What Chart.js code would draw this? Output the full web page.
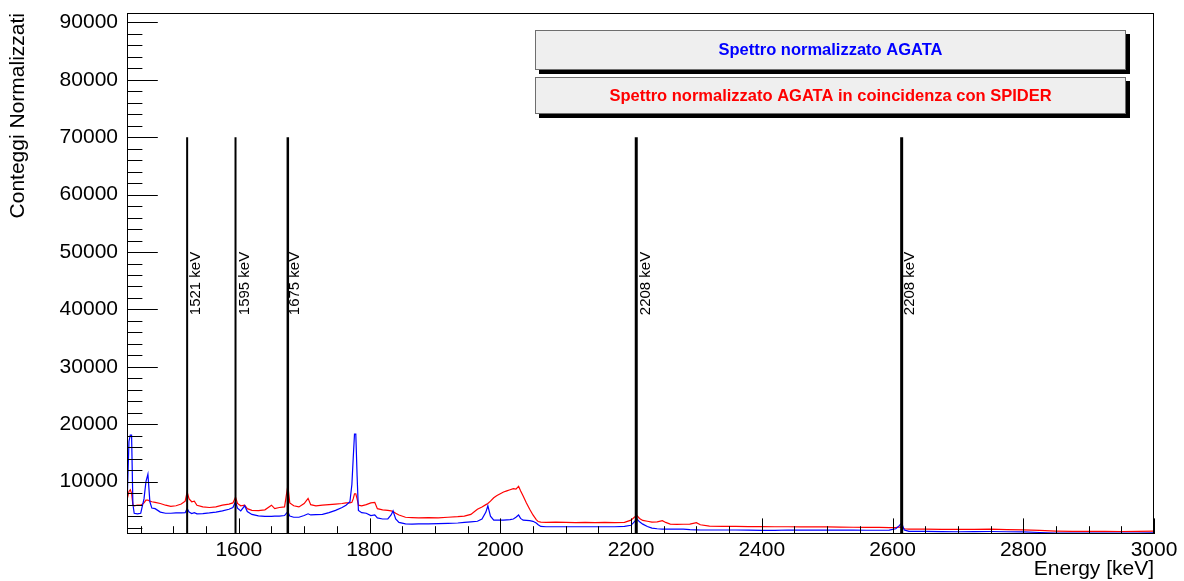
<!DOCTYPE html>
<html>
<head>
<meta charset="utf-8">
<script src="https://cdn.jsdelivr.net/npm/chart.js@4/dist/chart.umd.min.js"></script>
<style>
html,body{margin:0;padding:0;background:#fff;}
#wrap{width:1184px;height:581px;position:relative;}
</style>
</head>
<body>
<div id="wrap"><canvas id="c" width="1184" height="581"></canvas></div>
<script>
// ---------------- data ----------------
const energyKeV = [1429,1432,1434,1436,1438,1440,1445,1450,1455,1458,1461,1464,1467,1472,1480,1488,1496,1504,1512,1518,
  1521,1524,1528,1532,1536,1545,1555,1565,1575,1585,1591,1595,1598,1603,1609,1613,1620,1630,1640,1650,
  1655,1662,1670,1675,1678,1684,1692,1700,1706,1710,1718,1728,1738,1748,1758,1764,1770,1773,1775,1777,
  1779,1781,1783,1788,1795,1802,1808,1812,1820,1828,1833,1836,1840,1845,1855,1865,1875,1890,1905,1920,
  1935,1945,1955,1965,1972,1978,1981,1985,1990,1995,2000,2005,2010,2015,2020,2024,2028,2031,2035,2040,
  2045,2050,2055,2058,2062,2070,2085,2100,2115,2130,2145,2160,2175,2190,2200,2205,2209,2213,2218,2225,
  2232,2240,2248,2253,2260,2270,2280,2290,2300,2306,2320,2340,2360,2380,2400,2420,2440,2460,2480,2500,
  2520,2540,2560,2580,2595,2605,2610,2614,2618,2625,2650,2675,2700,2725,2750,2775,2800,2825,2850,2875,
  2900,2925,2950,2975,3000];

// Spettro normalizzato AGATA (blue)
const agata = [5600,17000,18100,18100,6100,4500,4400,4500,7000,10000,11300,6500,5400,5300,4700,4500,4500,4550,4550,4600,
  5300,4700,4450,4600,4400,4450,4550,4700,4900,5200,5500,6500,5400,4900,5800,4800,4300,4050,3950,3950,
  4000,4000,4100,4800,4000,3800,3800,4100,4400,4200,4250,4300,4600,5000,5500,5900,6500,9500,14000,18300,
  18300,11000,5000,4600,4500,4100,4200,3700,3500,3500,4200,4900,3500,2900,2650,2600,2650,2650,2700,2750,
  2800,2900,3000,3100,3500,4700,5800,4000,3300,3300,3300,3300,3350,3400,3500,3800,4200,3600,3300,3250,
  3200,3100,2800,2500,2200,2150,2150,2150,2150,2150,2150,2150,2150,2200,2400,3000,3500,3000,2600,2200,
  1900,1800,1750,1750,1750,1750,1750,1650,1600,1580,1580,1580,1580,1560,1500,1520,1580,1560,1560,1560,
  1550,1550,1540,1540,1560,1800,2300,2800,1600,1350,1330,1300,1280,1300,1320,1280,1250,1150,1050,1050,
  1040,1050,1030,1060,1100];

// Spettro normalizzato AGATA in coincidenza con SPIDER (red)
const agataSpider = [6800,8300,8600,8000,6000,5800,5900,5900,6300,6800,6800,6600,6500,6400,6200,5900,5700,5800,6100,6600,
  8200,7000,6500,6600,5900,5600,5500,5600,5900,6100,6300,7300,6200,5800,5900,5300,5000,4950,5100,5900,
  5300,5500,5600,9300,6300,5800,5600,6200,7100,6000,5800,5900,6000,6100,6200,6300,6300,6400,7000,7900,
  7900,7000,5900,5800,6000,6300,6400,5300,5100,5000,4900,4800,4500,4200,3800,3750,3700,3750,3700,3800,
  3900,4000,4300,5200,5600,6000,6200,6600,7200,7600,7900,8200,8400,8600,8800,8700,9200,8400,7500,6300,
  5200,4200,3400,3050,2950,2900,2950,2900,2850,2900,2850,2900,2850,2900,3300,3800,4100,3600,3250,3100,
  2950,3000,3200,2900,2600,2550,2580,2600,2850,2500,2250,2200,2200,2180,2180,2150,2150,2140,2140,2130,
  2100,2060,2050,2050,2000,2000,2100,2100,1800,1750,1720,1700,1700,1680,1720,1650,1600,1500,1400,1350,
  1330,1350,1320,1330,1380];

const markerEnergies = [1521,1595,1675,2208,2614];
const markerLabels = ['1521 keV','1595 keV','1675 keV','2208 keV','2208 keV'];
const markerLabelAt = [1541,1616,1692,2229,2633];
const markerTop = 70000;
const markerLabelStart = 39000;

const xTickLabels = [1600,1800,2000,2200,2400,2600,2800,3000];
const yTickLabels = [10000,20000,30000,40000,50000,60000,70000,80000,90000];
const xRange = [1429,3000];
const yRange = [885,91640];

const legendTexts = ['Spettro normalizzato AGATA','Spettro normalizzato AGATA in coincidenza con SPIDER'];
const xTitle = 'Energy [keV]';
const yTitle = 'Conteggi Normalizzati';

// ---------------- chart ----------------
const FAMILY = '"Liberation Sans", Arial, Helvetica, sans-serif';
const markerWidths = [2,2,2.5,3,3];

const datasets = [
  {label: legendTexts[1], data: energyKeV.map((e,i)=>({x:e,y:agataSpider[i]})), borderColor:'#ff0000', borderWidth:1.2, pointRadius:0, fill:false, tension:0, order:2},
  {label: legendTexts[0], data: energyKeV.map((e,i)=>({x:e,y:agata[i]})), borderColor:'#0000ff', borderWidth:1.2, pointRadius:0, fill:false, tension:0, order:1}
];
markerEnergies.forEach((e,i)=>{
  datasets.push({label:'m'+i, data:[{x:e,y:yRange[0]},{x:e,y:markerTop}], borderColor:'#000', borderWidth:markerWidths[i], pointRadius:0, fill:false, order:0});
});

const rootAxes = {
  id:'rootAxes',
  afterDatasetsDraw(chart){
    const {ctx, chartArea:a, scales:{x,y}} = chart;
    ctx.save();
    ctx.strokeStyle = '#000';
    ctx.lineWidth = 1;
    ctx.strokeRect(a.left+0.5, a.top+0.5, a.right-a.left-1, a.bottom-a.top-1);
    ctx.beginPath();
    for (let v = 1450; v <= 3000; v += 50) {
      const px = Math.round(x.getPixelForValue(v)) + 0.5;
      const len = (v % 200 === 0) ? 15.6 : 7.8;
      ctx.moveTo(px, a.bottom); ctx.lineTo(px, a.bottom - len);
    }
    for (let v = 2000; v <= 90000; v += 2000) {
      const py = Math.round(y.getPixelForValue(v)) + 0.5;
      const len = (v % 10000 === 0) ? 30.8 : 15.4;
      ctx.moveTo(a.left, py); ctx.lineTo(a.left + len, py);
    }
    ctx.stroke();
    // marker labels
    ctx.fillStyle = '#000';
    ctx.font = '15px ' + FAMILY;
    ctx.textAlign = 'left';
    ctx.textBaseline = 'alphabetic';
    markerLabels.forEach((t,i)=>{
      ctx.save();
      ctx.translate(x.getPixelForValue(markerLabelAt[i]), y.getPixelForValue(markerLabelStart));
      ctx.rotate(-Math.PI/2);
      ctx.fillText(t, 0, 0);
      ctx.restore();
    });
    ctx.restore();
  },
  afterDraw(chart){
    const ctx = chart.ctx;
    ctx.save();
    const boxes = [{x:535,y:30,w:591,h:40,c:'#0000ff'},{x:535,y:77,w:591,h:37,c:'#ff0000'}];
    boxes.forEach((b,i)=>{
      ctx.fillStyle = '#000';
      ctx.fillRect(b.x+4, b.y+4, b.w, b.h);
      ctx.fillStyle = '#efefef';
      ctx.fillRect(b.x, b.y, b.w, b.h);
      ctx.strokeStyle = '#6e6e6e';
      ctx.lineWidth = 1;
      ctx.strokeRect(b.x+0.5, b.y+0.5, b.w-1, b.h-1);
      ctx.fillStyle = b.c;
      ctx.font = 'bold 16.5px ' + FAMILY;
      ctx.textAlign = 'center';
      ctx.textBaseline = 'middle';
      ctx.fillText(legendTexts[i], b.x + b.w/2, b.y + b.h/2 + 0.5);
    });
    ctx.restore();
  }
};

new Chart(document.getElementById('c'), {
  type:'line',
  data:{datasets},
  plugins:[rootAxes],
  options:{
    responsive:false,
    animation:false,
    events:[],
    layout:{padding:{top:13, right:30, left:0, bottom:0}},
    plugins:{legend:{display:false}, tooltip:{enabled:false}},
    scales:{
      x:{
        type:'linear', min:xRange[0], max:xRange[1],
        grid:{display:false, drawTicks:false}, border:{display:false},
        afterBuildTicks:s=>{ s.ticks = xTickLabels.map(v=>({value:v})); },
        afterFit:s=>{ s.height = 47; s.paddingLeft = 0; s.paddingRight = 0; },
        ticks:{font:{family:FAMILY,size:21}, color:'#000', padding:4, maxRotation:0, autoSkip:false, callback:v=>String(v)},
        title:{display:true, text:xTitle, align:'end', color:'#000', font:{family:FAMILY,size:21,lineHeight:1}, padding:{top:0,bottom:1}}
      },
      y:{
        type:'linear', min:yRange[0], max:yRange[1],
        grid:{display:false, drawTicks:false}, border:{display:false},
        afterBuildTicks:s=>{ s.ticks = yTickLabels.map(v=>({value:v})); },
        afterFit:s=>{ s.width = 127; s.paddingTop = 0; s.paddingBottom = 0; },
        ticks:{font:{family:FAMILY,size:21}, color:'#000', padding:9, autoSkip:false, callback:v=>String(v)},
        title:{display:true, text:yTitle, align:'end', color:'#000', font:{family:FAMILY,size:21,lineHeight:1}, padding:{top:8,bottom:0}}
      }
    }
  }
});
</script>
</body>
</html>
